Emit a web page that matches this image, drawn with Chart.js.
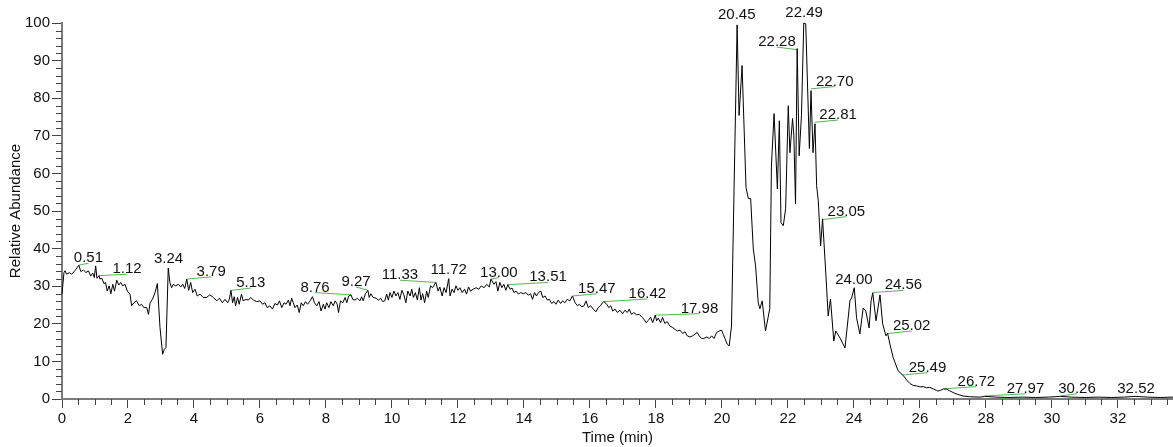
<!DOCTYPE html>
<html>
<head>
<meta charset="utf-8">
<script src="https://cdn.jsdelivr.net/npm/chart.js@4"></script>
<style>
html,body{margin:0;padding:0;background:#fff;}
#wrap{width:1173px;height:447px;position:relative;}
</style>
</head>
<body>
<div id="wrap"><canvas id="c"></canvas></div>
<script>
// Retention times (min)
const times = [
0.00,0.06,0.09,0.14,0.22,0.29,0.39,0.51,0.57,0.65,0.73,0.80,0.87,0.93,0.98,1.02,1.06,1.12,1.15,1.21,
1.27,1.32,1.37,1.43,1.48,1.54,1.59,1.66,1.72,1.78,1.84,1.91,1.98,2.06,2.11,2.18,2.26,2.34,2.41,2.48,
2.57,2.62,2.67,2.74,2.82,2.89,2.97,3.05,3.10,3.15,3.22,3.27,3.32,3.37,3.44,3.53,3.60,3.66,3.72,3.78,
3.84,3.90,3.96,4.03,4.10,4.18,4.28,4.38,4.48,4.59,4.69,4.77,4.86,4.94,5.02,5.07,5.12,5.17,5.22,5.26,
5.32,5.37,5.44,5.49,5.58,5.65,5.72,5.80,5.90,6.00,6.08,6.15,6.22,6.30,6.38,6.45,6.53,6.59,6.66,6.73,
6.79,6.86,6.91,6.96,7.01,7.06,7.13,7.19,7.25,7.31,7.38,7.44,7.52,7.59,7.65,7.72,7.79,7.85,7.92,7.97,
8.02,8.09,8.15,8.22,8.28,8.34,8.38,8.44,8.51,8.58,8.63,8.69,8.76,8.81,8.88,8.95,9.03,9.08,9.13,9.19,
9.27,9.31,9.36,9.43,9.52,9.59,9.66,9.72,9.78,9.84,9.89,9.94,10.00,10.06,10.12,10.18,10.24,10.30,10.36,10.42,
10.48,10.55,10.60,10.65,10.71,10.77,10.83,10.88,10.93,10.99,11.05,11.10,11.17,11.23,11.28,11.33,11.40,11.45,11.52,11.58,
11.64,11.72,11.76,11.82,11.88,11.94,12.00,12.06,12.13,12.20,12.26,12.32,12.38,12.46,12.55,12.63,12.71,12.79,12.87,12.95,
13.00,13.09,13.15,13.21,13.27,13.33,13.39,13.45,13.51,13.58,13.64,13.70,13.76,13.83,13.90,13.98,14.06,14.13,14.20,14.26,
14.32,14.38,14.44,14.51,14.57,14.64,14.71,14.77,14.84,14.91,14.97,15.04,15.11,15.17,15.24,15.31,15.39,15.47,15.55,15.62,
15.68,15.75,15.82,15.88,15.95,16.02,16.10,16.18,16.25,16.32,16.38,16.42,16.51,16.57,16.63,16.69,16.76,16.83,16.91,16.99,
17.06,17.13,17.19,17.26,17.33,17.41,17.50,17.57,17.64,17.70,17.77,17.84,17.90,17.98,18.02,18.07,18.14,18.20,18.27,18.34,
18.42,18.51,18.58,18.65,18.73,18.81,18.88,18.95,19.03,19.11,19.18,19.25,19.31,19.38,19.45,19.54,19.62,19.69,19.76,19.84,
19.92,19.99,20.04,20.09,20.16,20.22,20.29,20.46,20.52,20.61,20.73,20.80,20.87,20.95,21.02,21.10,21.15,21.22,21.32,21.45,
21.50,21.58,21.68,21.74,21.79,21.86,21.93,22.01,22.06,22.14,22.18,22.23,22.28,22.34,22.41,22.48,22.54,22.65,22.70,22.76,
22.82,22.87,22.92,22.99,23.05,23.14,23.22,23.29,23.39,23.45,23.58,23.73,23.88,23.93,24.01,24.08,24.18,24.28,24.36,24.46,
24.52,24.57,24.67,24.79,24.87,24.97,25.02,25.09,25.19,25.34,25.49,25.60,25.70,25.80,25.90,26.00,26.10,26.20,26.30,26.40,
26.50,26.55,26.62,26.72,26.81,26.90,27.01,27.15,27.31,27.50,27.82,27.97,28.30,28.70,29.10,29.50,29.90,30.26,30.60,31.00,
31.40,31.80,32.20,32.52,32.90,33.30,33.67
];
// Relative abundance (%)
const abundance = [
28.0,33.6,34.1,33.2,33.6,33.2,34.1,35.6,33.9,34.3,33.6,34.1,32.7,33.5,32.3,35.4,32.1,32.8,31.9,32.1,
30.7,31.0,28.7,30.1,28.0,30.5,28.7,31.6,30.3,31.0,30.1,30.5,28.7,27.9,24.8,25.6,26.1,24.8,25.2,24.3,
24.3,22.5,25.6,26.5,28.3,30.7,19.0,11.9,13.2,13.7,34.8,31.0,29.6,30.5,30.1,30.5,29.8,30.5,29.4,31.9,
28.9,31.0,28.3,29.2,27.4,27.9,27.0,27.0,27.7,27.0,26.1,26.8,25.6,26.5,25.6,26.5,28.9,25.6,27.2,24.8,
27.0,25.2,27.9,26.1,26.5,26.3,27.0,26.3,25.9,26.1,25.2,25.6,24.3,24.8,23.9,25.4,25.0,26.1,24.3,25.6,
25.2,26.3,24.8,26.8,25.6,24.3,25.0,23.0,25.6,24.8,25.9,25.2,26.1,27.2,25.6,24.8,25.9,23.4,25.2,23.9,
25.6,24.3,25.9,24.8,26.1,25.2,23.0,26.1,25.6,27.0,25.6,27.4,27.7,26.5,26.3,26.8,26.1,27.2,26.1,27.9,
28.9,27.0,28.0,27.0,26.8,26.3,26.8,25.9,26.1,27.9,26.3,28.3,27.0,28.7,27.4,28.3,26.5,28.9,27.7,25.6,
28.7,27.4,29.2,27.0,28.3,26.3,29.6,26.3,28.0,25.6,28.7,27.0,30.1,29.6,30.3,31.0,28.7,29.8,27.4,29.6,
28.3,32.0,27.4,29.2,28.3,30.1,28.9,29.6,28.3,29.2,27.9,29.8,28.7,29.2,29.6,29.2,30.1,29.6,30.5,29.8,
31.9,30.5,31.2,28.7,31.0,29.6,30.5,28.9,30.4,29.2,29.5,28.3,28.7,27.9,28.3,28.0,28.3,27.6,28.0,26.5,
28.3,27.4,28.3,28.7,27.0,27.4,26.3,26.5,25.4,25.9,25.2,26.3,25.4,26.1,25.6,26.5,26.1,27.4,25.6,24.8,
25.2,24.5,24.8,26.1,24.3,24.8,23.9,23.2,24.3,24.8,25.6,25.9,25.2,24.3,24.8,23.4,23.9,23.0,23.6,22.7,
23.6,23.0,23.9,22.5,23.0,22.4,22.5,21.8,21.2,20.3,20.9,21.7,20.3,22.3,20.8,21.5,20.3,21.7,20.1,20.6,
19.4,19.0,18.5,18.1,18.3,17.4,17.9,16.8,16.5,16.8,17.2,17.7,16.8,16.1,16.1,16.5,16.1,16.8,16.1,17.7,
18.1,18.3,17.2,16.1,14.6,14.1,19.4,99.5,75.4,88.7,56.2,53.3,53.3,39.9,35.4,25.6,24.0,26.1,18.1,24.0,
62.0,75.9,55.9,74.0,46.9,46.1,50.6,78.0,65.5,74.6,70.0,51.9,93.2,64.7,75.4,100.0,99.8,66.6,82.0,65.5,
73.2,56.7,52.7,40.7,47.9,34.6,22.1,26.6,15.4,18.1,16.2,13.6,26.1,26.9,29.6,21.6,17.3,24.2,23.4,18.9,
26.1,28.2,20.8,27.7,20.0,16.8,17.5,14.6,11.0,7.5,6.3,5.0,4.1,3.6,3.5,3.2,3.3,3.0,3.1,2.7,
2.3,2.1,2.3,2.7,2.6,2.2,1.7,1.2,0.8,0.6,0.5,0.7,0.5,0.4,0.5,0.4,0.5,0.7,0.5,0.4,
0.5,0.4,0.5,0.7,0.5,0.4,0.5
];
// Peak annotations
const peakTimes = [0.51,1.12,3.24,3.79,5.13,8.76,9.27,11.33,11.72,13.00,13.51,15.47,16.42,17.98,20.45,22.28,22.49,22.70,22.81,23.05,24.00,24.56,25.02,25.49,26.72,27.97,30.26,32.52];
const peakLevels = [35.6,32.8,34.8,31.9,28.9,27.7,28.9,31.0,32.0,31.9,30.4,27.4,25.9,22.3,99.5,92.9,100,82.5,73.6,47.7,29.6,28.3,17.4,6.4,2.7,0.8,0.8,0.8];
const labelTimes = [0.80,1.97,3.23,4.52,5.72,7.67,8.91,10.24,11.72,13.24,14.73,16.21,17.74,19.32,20.45,21.67,22.49,23.42,23.52,23.77,24.00,25.50,25.75,26.23,27.71,29.20,30.76,32.55];
const labelLevels = [36.1,33.2,36.0,32.5,29.5,28.3,29.8,31.6,32.9,32.3,31.0,28.0,26.6,22.7,100.7,93.6,101.4,83.1,74.2,48.5,30.3,28.9,18.1,7.0,3.3,1.4,1.4,1.4];

const xTitle = 'Time (min)';
const yTitle = 'Relative Abundance';

const FONT = '"Liberation Sans", Arial, Helvetica, sans-serif';

const minorTicks = {
  id: 'minorTicks',
  afterDraw(chart) {
    const {ctx, scales: {x, y}} = chart;
    ctx.save();
    ctx.strokeStyle = '#444';
    ctx.lineWidth = 1;
    ctx.beginPath();
    for (let v = 0.5; v < x.max; v += 0.5) {
      if (Math.abs(v / 2 - Math.round(v / 2)) < 1e-6) continue;
      const px = Math.round(x.getPixelForValue(v)) + 0.5;
      ctx.moveTo(px, y.bottom);
      ctx.lineTo(px, y.bottom + 6);
    }
    for (let v = 2; v < 100; v += 2) {
      if (v % 10 === 0) continue;
      const py = Math.round(y.getPixelForValue(v)) + 0.5;
      ctx.moveTo(x.left - 6, py);
      ctx.lineTo(x.left, py);
    }
    ctx.stroke();
    ctx.restore();
  }
};

const peakLabels = {
  id: 'peakLabels',
  beforeDatasetsDraw(chart) {
    const {ctx, scales: {x, y}} = chart;
    ctx.save();
    ctx.strokeStyle = '#52b852';
    ctx.lineWidth = 1;
    peakTimes.forEach((t, i) => {
      if (Math.abs(labelTimes[i] - t) < 0.05) return;
      ctx.beginPath();
      ctx.moveTo(x.getPixelForValue(t), y.getPixelForValue(peakLevels[i]));
      ctx.lineTo(x.getPixelForValue(labelTimes[i]), y.getPixelForValue(labelLevels[i]));
      ctx.stroke();
    });
    ctx.restore();
  },
  afterDatasetsDraw(chart) {
    const {ctx, scales: {x, y}} = chart;
    ctx.save();
    ctx.fillStyle = '#111';
    ctx.font = '15px ' + FONT;
    ctx.textAlign = 'center';
    ctx.textBaseline = 'alphabetic';
    peakTimes.forEach((t, i) => {
      ctx.fillText(t.toFixed(2), x.getPixelForValue(labelTimes[i]), y.getPixelForValue(labelLevels[i]) - 1);
    });
    ctx.restore();
  }
};

const points = times.map((t, i) => ({x: t, y: abundance[i]}));

new Chart(document.getElementById('c'), {
  type: 'line',
  data: {
    datasets: [{
      data: points,
      borderColor: '#000',
      borderWidth: 1,
      pointRadius: 0,
      tension: 0,
      fill: false,
      clip: false
    }]
  },
  options: {
    responsive: true,
    maintainAspectRatio: false,
    animation: false,
    parsing: true,
    layout: {padding: {top: 23, right: 0, bottom: 0, left: 0}},
    plugins: {legend: {display: false}, tooltip: {enabled: false}},
    scales: {
      x: {
        type: 'linear',
        min: 0,
        max: 33.67,
        afterFit(s) { s.height = 48; },
        border: {display: true, color: '#7a7a7a', width: 2},
        grid: {display: true, drawOnChartArea: false, drawTicks: true, tickLength: 9, tickColor: '#444', tickWidth: 1},
        ticks: {stepSize: 2, includeBounds: false, autoSkip: false, maxRotation: 0, padding: 2, color: '#111',
          font: {family: FONT, size: 15}},
        title: {display: true, text: xTitle, color: '#111', font: {family: FONT, size: 15}, padding: {top: 0, bottom: 0}}
      },
      y: {
        type: 'linear',
        min: 0,
        max: 100,
        afterFit(s) { s.width = 62; },
        border: {display: true, color: '#7a7a7a', width: 2},
        grid: {display: true, drawOnChartArea: false, drawTicks: true, tickLength: 10, tickColor: '#444', tickWidth: 1},
        ticks: {stepSize: 10, padding: 2, color: '#111', font: {family: FONT, size: 15}},
        title: {display: true, text: yTitle, color: '#111', font: {family: FONT, size: 15}, padding: {top: 7, bottom: 0}}
      }
    }
  },
  plugins: [minorTicks, peakLabels]
});
</script>
</body>
</html>
